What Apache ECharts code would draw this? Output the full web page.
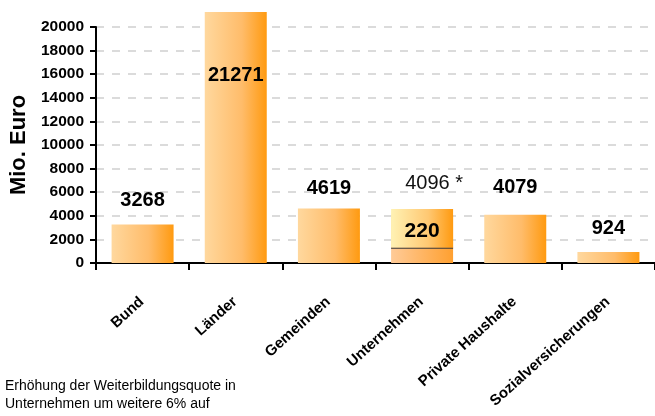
<!DOCTYPE html>
<html>
<head>
<meta charset="utf-8">
<script src="https://cdn.jsdelivr.net/npm/echarts@6/dist/echarts.min.js"></script>
<style>html,body{margin:0;padding:0;background:#fff}#c{width:655px;height:416px}</style>
</head>
<body>
<div id="c"></div>
<script>
var categories = ['Bund', 'Länder', 'Gemeinden', 'Unternehmen', 'Private Haushalte', 'Sozialversicherungen'];
var values = [3268, 21271, 4619, 4096, 4079, 924];
var valueLabels = ['3268', '21271', '4619', '4096 *', '4079', '924'];
// overlay box drawn on the Unternehmen bar (as in the source picture)
var overlayBase = [null, null, null, 1200, null, null];
var overlayEdge = [null, null, null, 110, null, null];
var overlayBox = [null, null, null, 3266, null, null];
var overlayLabel = '220';
var yTicks = [0, 2000, 4000, 6000, 8000, 10000, 12000, 14000, 16000, 18000, 20000];
var footnote = ['Erhöhung der Weiterbildungsquote in', 'Unternehmen um weitere 6% auf'];

var FONT = "'Liberation Sans', Arial, sans-serif";
var barGrad = {type:'linear', x:0, y:0, x2:1, y2:0, colorStops:[{offset:0,color:'#FFD89E'},{offset:0.6,color:'#FFBC6A'},{offset:1,color:'#FF9A10'}]};
var backGrad = {type:'linear', x:0, y:0, x2:1, y2:0, colorStops:[{offset:0,color:'#FFCB98'},{offset:1,color:'#FFA030'}]};
var boxGrad = {type:'linear', x:0, y:0, x2:1, y2:0, colorStops:[{offset:0,color:'#FFF2B4'},{offset:0.6,color:'#FFC872'},{offset:1,color:'#FF9A10'}]};

var labelTweaks = {
  1: {position:'insideTop', distance:53},
  3: {distance:21, fontWeight:'normal', offset:[12,0], color:'#111'},
  0: {distance:14}, 2: {distance:10}, 4: {distance:17}, 5: {distance:14}
};

var mainData = values.map(function(v, i){
  var lab = Object.assign({show:true, position:'top', formatter: valueLabels[i]}, labelTweaks[i] || {});
  var d = {value: v, label: lab};
  if (i === 3) d.itemStyle = {color: backGrad};
  return d;
});

var chart = echarts.init(document.getElementById('c'), null, {renderer:'canvas'});
chart.setOption({
  animation:false,
  textStyle:{fontFamily:FONT},
  grid:[
    {left:94, top:27, height:236, width:567, containLabel:false}
  ],
  xAxis:[{
    type:'category', data:categories, gridIndex:0,
    axisLine:{lineStyle:{color:'#000', width:2}},
    axisTick:{show:true, length:7, lineStyle:{color:'#000', width:2}},
    axisLabel:{rotate:42, margin:36, padding:[0,1,0,0], color:'#000', fontWeight:'bold', fontSize:15, fontFamily:FONT, interval:0}
  }],
  yAxis:[{
    type:'value', min:0, max:20000, interval:2000, gridIndex:0,
    name:'Mio. Euro', nameLocation:'middle', nameGap:62,
    nameTextStyle:{fontWeight:'bold', fontSize:22, color:'#000', fontFamily:FONT},
    axisLine:{show:true, lineStyle:{color:'#000', width:2}},
    axisTick:{show:true, length:6, lineStyle:{color:'#000', width:2}},
    axisLabel:{margin:12, color:'#000', fontWeight:'bold', fontSize:15.5, fontFamily:FONT,
      formatter:function(v){ return yTicks.indexOf(v) >= 0 ? String(v) : ''; }},
    splitLine:{show:true, lineStyle:{color:'#d0d0d0', width:1.5, type:[8,8]}}
  }],
  series:[
    {type:'bar', name:'main', data:mainData, barWidth:62, barGap:'-100%', clip:false,
      itemStyle:{color:barGrad},
      label:{color:'#000', fontWeight:'bold', fontSize:20, fontFamily:FONT}},
    {type:'bar', stack:'u', data:overlayBase, barWidth:62, itemStyle:{color:'transparent'}, silent:true},
    {type:'bar', stack:'u', data:overlayEdge, barWidth:62, itemStyle:{color:'#3a3a3a'}},
    {type:'bar', stack:'u', data:overlayBox, barWidth:62, itemStyle:{color:boxGrad},
      label:{show:true, position:'insideBottom', distance:6, formatter:overlayLabel, color:'#000', fontWeight:'bold', fontSize:21, fontFamily:FONT}}
  ],
  graphic:[
    {type:'text', left:5, top:377, style:{text:footnote.join('\n'), font:"14px 'Liberation Sans', Arial, sans-serif", fill:'#000', lineHeight:18}}
  ]
});
</script>
</body>
</html>
